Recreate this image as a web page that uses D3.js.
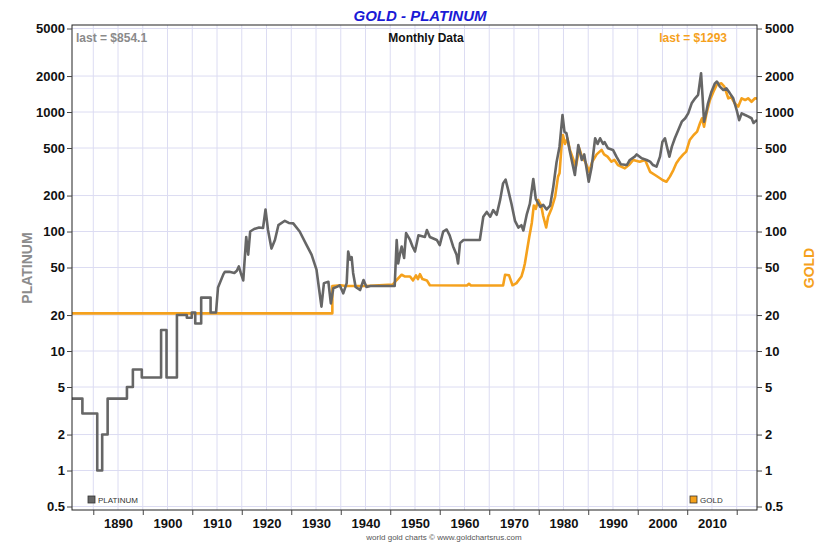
<!DOCTYPE html>
<html><head><meta charset="utf-8">
<script src="https://cdn.jsdelivr.net/npm/d3@7"></script>
<style>
html,body{margin:0;padding:0;background:#fff;}
svg text{font-family:"Liberation Sans",Arial,sans-serif;}
</style></head>
<body>
<svg id="chart" width="822" height="546"></svg>
<script>
// ---- data ----
const yTickValues = [0.5, 1, 2, 5, 10, 20, 50, 100, 200, 500, 1000, 2000, 5000];
const xLabelYears = [1890, 1900, 1910, 1920, 1930, 1940, 1950, 1960, 1970, 1980, 1990, 2000, 2010];
const xGridYears = [1885,1890,1895,1900,1905,1910,1915,1920,1925,1930,1935,1940,1945,1950,1955,1960,1965,1970,1975,1980,1985,1990,1995,2000,2005,2010,2015];
const xMinorTickYears = [1885,1895,1905,1915,1925,1935,1945,1955,1965,1975,1985,1995,2005,2015];

const platinumSeries = [
[1880.7,4],[1882.8,4],[1882.8,3],[1885.8,3],[1885.8,1],[1886.8,1],[1886.8,2],[1887.9,2],[1887.9,4],[1891.8,4],
[1891.8,5],[1893,5],[1893,7],[1894.8,7],[1894.8,6],[1898.7,6],[1898.7,15],[1899.8,15],[1899.8,6],[1901.9,6],
[1901.9,20],[1903.9,20],[1903.9,19],[1904.9,19],[1904.9,21],[1905.6,21],[1905.6,17],[1906.8,17],[1906.8,28],[1908.7,28],
[1908.7,21],[1909.8,21],[1910.2,34],[1911.3,44],[1911.6,46],[1912.5,46],[1913.5,45],[1914,47],[1914.4,51],[1914.8,45],
[1915.3,39],[1915.9,90],[1916.3,64],[1916.7,100],[1917.5,105],[1918.5,108],[1919.3,107],[1919.8,153],[1920.3,103],[1921,72],
[1921.7,85],[1922.4,113],[1923.7,123],[1924.5,118],[1925.4,117],[1926.7,100],[1928.1,77],[1929.1,64],[1930.1,48],[1930.6,33.5],
[1931.1,23.5],[1931.6,37],[1932.5,38],[1933,25],[1933.5,33.5],[1934.2,34.4],[1934.8,35.5],[1935.5,30.4],[1936.2,37],[1936.5,68],
[1936.9,58],[1937.2,61],[1937.5,45],[1938,34.4],[1938.9,32.4],[1939.6,39.3],[1940.2,34.4],[1941,35],[1945.9,35],[1946.3,85],
[1946.6,54],[1947,66],[1947.3,75],[1947.8,60],[1948.2,97],[1949,85],[1949.5,75],[1950,68],[1950.7,93],[1952,90],
[1952.4,103],[1953,90],[1954.4,85],[1955,77],[1955.7,100],[1956.4,104],[1957,93],[1957.7,75],[1958.4,64],[1958.7,54],
[1959.1,80],[1959.8,85],[1963.1,85],[1963.8,133],[1964.5,146],[1965.2,133],[1965.8,151],[1966.5,138],[1967.2,184],[1967.8,253],
[1968.3,272],[1968.8,225],[1969.5,170],[1970.2,123],[1970.9,108],[1971.5,113],[1971.9,102],[1972.6,140],[1973.2,170],[1973.9,275],
[1974.4,188],[1975.3,161],[1975.9,167],[1976.6,153],[1977.3,165],[1977.9,230],[1978.6,380],[1979.2,513],[1979.8,944],[1980.2,685],
[1980.6,663],[1981.3,466],[1982.3,297],[1983,530],[1983.7,397],[1984.2,442],[1985.1,261],[1985.7,349],[1986.4,603],[1986.9,540],
[1987.4,603],[1988,540],[1988.3,560],[1989,497],[1990,482],[1990.7,423],[1991.6,365],[1992.8,360],[1993.4,397],[1994.4,423],
[1994.8,442],[1995.8,410],[1996.8,397],[1997.5,385],[1998.1,360],[1998.8,349],[1999.5,423],[2000,565],[2000.5,603],[2000.9,513],
[2001.4,423],[2001.9,513],[2002.5,603],[2003.2,707],[2003.9,830],[2004.6,887],[2005.2,975],[2005.9,1183],[2006.6,1303],[2007.2,1390],
[2007.8,2110],[2008.1,1345],[2008.4,830],[2008.8,975],[2009.2,1183],[2009.9,1480],[2010.6,1738],[2011,1800],[2011.6,1630],[2012.3,1528],
[2012.9,1580],[2013.6,1440],[2014.3,1303],[2015,1035],[2015.5,855],[2016,975],[2016.7,944],[2017.3,920],[2018,887],[2018.4,809],
[2018.8,840],[2019.1,854]
];

const goldSeries = [
[1880.7,20.67],[1933.3,20.67],[1933.3,35],[1935,35.5],[1936,35],[1940,35],[1945.5,36],[1946.3,39.3],[1947.3,43.5],[1948,42],
[1949,42],[1949.6,39],[1950.2,43],[1950.6,40],[1951,44],[1951.5,40],[1952.4,39],[1953,35.5],[1960.5,35.3],[1960.9,36.5],
[1961.3,35.3],[1967.8,35.3],[1968.2,43.5],[1969,43],[1969.7,35.5],[1970.5,37],[1971.5,42],[1971.9,47.7],[1972.2,54],[1972.6,68],
[1973.1,91],[1973.6,118],[1974,165],[1974.4,155],[1974.9,184],[1975.5,165],[1975.9,135],[1976.5,108],[1976.9,133],[1977.6,156],
[1978.3,195],[1978.9,288],[1979.2,307],[1979.6,513],[1979.9,643],[1980.3,540],[1980.8,600],[1981.3,482],[1981.9,410],[1982.5,350],
[1983.2,497],[1983.7,423],[1984.4,384],[1985.2,316],[1985.8,384],[1986.7,442],[1987.7,482],[1988.2,442],[1988.9,423],[1989.7,384],
[1990.3,397],[1991,360],[1992.4,338],[1993.2,360],[1994.1,397],[1995.4,384],[1996.5,397],[1997.5,316],[1998.5,297],[1999.5,279],
[2000,270],[2000.8,261],[2001.5,288],[2002.2,327],[2002.8,372],[2003.5,410],[2004.2,442],[2004.8,466],[2005.5,583],[2006.3,643],
[2007,685],[2007.6,809],[2008,887],[2008.4,753],[2008.9,975],[2009.6,1262],[2010.3,1480],[2011,1700],[2011.9,1738],[2012.5,1630],
[2013.3,1303],[2013.9,1330],[2014.6,1183],[2015.3,1109],[2016,1303],[2016.7,1260],[2017.3,1303],[2018,1219],[2018.7,1303],[2019.1,1293]
];

const titleText = "GOLD - PLATINUM";
const subtitleText = "Monthly Data";
const platinumLast = "last = $854.1";
const goldLast = "last = $1293";
const footerText = "world gold charts \u00a9 www.goldchartsrus.com";

// ---- layout ----
const svg = d3.select("#chart");
const L = 72, R = 757, T = 25, B = 510;
const x = d3.scaleLinear().domain([1880.7, 2019.1]).range([L, R]);
const y = d3.scaleLog().domain([0.5, 5000]).range([506.5, 28.5]);

const platColor = "#666666", goldColor = "#f5a11c", gridColor = "#dcdcf2";

// grid
const grid = svg.append("g");
grid.selectAll("line.v").data(xGridYears).enter().append("line")
  .attr("x1", d => x(d)).attr("x2", d => x(d)).attr("y1", T).attr("y2", B)
  .attr("stroke", gridColor).attr("stroke-width", 1);
grid.selectAll("line.h").data(yTickValues).enter().append("line")
  .attr("x1", L).attr("x2", R).attr("y1", d => y(d)).attr("y2", d => y(d))
  .attr("stroke", gridColor).attr("stroke-width", 1);

// clip
svg.append("clipPath").attr("id", "clip").append("rect")
  .attr("x", L).attr("y", T).attr("width", R - L).attr("height", B - T);

const line = d3.line().x(d => x(d[0])).y(d => y(d[1]));
const plot = svg.append("g").attr("clip-path", "url(#clip)");
plot.append("path").datum(goldSeries).attr("d", line)
  .attr("fill", "none").attr("stroke", goldColor).attr("stroke-width", 2.6).attr("stroke-linejoin", "round");
plot.append("path").datum(platinumSeries).attr("d", line)
  .attr("fill", "none").attr("stroke", platColor).attr("stroke-width", 2.6).attr("stroke-linejoin", "round");

// frame
svg.append("rect").attr("x", L).attr("y", T).attr("width", R - L).attr("height", B - T)
  .attr("fill", "none").attr("stroke", "#222").attr("stroke-width", 1);

// axes
const fmt = d => String(d);
const leftAxis = d3.axisLeft(y).tickValues(yTickValues).tickFormat(fmt).tickSize(5).tickPadding(2);
const rightAxis = d3.axisRight(y).tickValues(yTickValues).tickFormat(fmt).tickSize(5).tickPadding(3);
const gl = svg.append("g").attr("transform", `translate(${L},0)`).call(leftAxis);
const gr = svg.append("g").attr("transform", `translate(${R},0)`).call(rightAxis);
[gl, gr].forEach(g => {
  g.select(".domain").remove();
  g.selectAll("line").attr("stroke", "#444");
  g.selectAll("text").attr("font-size", 13).attr("font-weight", "bold").attr("fill", "#111")
    .style("font-family", "'Liberation Sans', Arial, sans-serif");
});

const bottomLabels = d3.axisBottom(x).tickValues(xLabelYears).tickFormat(d3.format("d")).tickSize(0).tickPadding(9);
const gb = svg.append("g").attr("transform", `translate(0,${B})`).call(bottomLabels);
gb.select(".domain").remove();
gb.selectAll("text").attr("font-size", 13).attr("font-weight", "bold").attr("fill", "#111")
  .style("font-family", "'Liberation Sans', Arial, sans-serif");
const minorAxis = d3.axisBottom(x).tickValues(xMinorTickYears).tickFormat("").tickSize(5);
const gm = svg.append("g").attr("transform", `translate(0,${B})`).call(minorAxis);
gm.select(".domain").remove();
gm.selectAll("line").attr("stroke", "#444");

// texts
svg.append("text").attr("x", 420).attr("y", 21).attr("text-anchor", "middle")
  .attr("font-size", 15).attr("font-weight", "bold").attr("font-style", "italic").attr("fill", "#1a1ad6").text(titleText);
svg.append("text").attr("x", 426).attr("y", 42).attr("text-anchor", "middle")
  .attr("font-size", 12).attr("font-weight", "bold").attr("fill", "#111").text(subtitleText);
svg.append("text").attr("x", 76).attr("y", 42)
  .attr("font-size", 12).attr("font-weight", "bold").attr("fill", "#8a8a8a").text(platinumLast);
svg.append("text").attr("x", 727).attr("y", 42).attr("text-anchor", "end")
  .attr("font-size", 12).attr("font-weight", "bold").attr("fill", goldColor).text(goldLast);

svg.append("text").attr("transform", "translate(32,268) rotate(-90)").attr("text-anchor", "middle")
  .attr("font-size", 14).attr("font-weight", "bold").attr("fill", "#8c8c8c").text("PLATINUM");
svg.append("text").attr("transform", "translate(814,268) rotate(-90)").attr("text-anchor", "middle")
  .attr("font-size", 14).attr("font-weight", "bold").attr("fill", goldColor).text("GOLD");

// legends
svg.append("rect").attr("x", 88).attr("y", 496).attr("width", 7).attr("height", 7)
  .attr("fill", platColor).attr("stroke", "#333").attr("stroke-width", 0.8);
svg.append("text").attr("x", 98).attr("y", 503).attr("font-size", 8).attr("fill", "#333").text("PLATINUM");
svg.append("rect").attr("x", 690).attr("y", 496).attr("width", 7).attr("height", 7)
  .attr("fill", goldColor).attr("stroke", "#333").attr("stroke-width", 0.8);
svg.append("text").attr("x", 700).attr("y", 503).attr("font-size", 8).attr("fill", "#333").text("GOLD");

svg.append("text").attr("x", 444).attr("y", 540).attr("text-anchor", "middle")
  .attr("font-size", 8).attr("fill", "#555").text(footerText);
</script>
</body></html>
